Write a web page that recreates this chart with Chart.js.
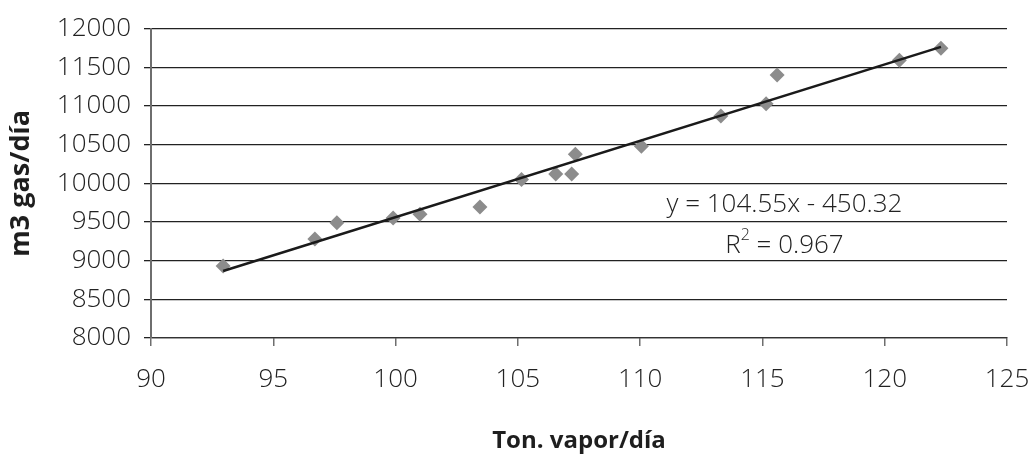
<!DOCTYPE html>
<html>
<head>
<meta charset="utf-8">
<script src="https://cdn.jsdelivr.net/npm/chart.js@4/dist/chart.umd.min.js"></script>
<style>
  html, body { margin: 0; padding: 0; background: #fff; }
  #wrap { width: 1036px; height: 458px; }
</style>
</head>
<body>
<div id="wrap"><canvas id="vaporChart"></canvas></div>
<script>
// Ton. vapor/día vs m3 gas/día
const vaporValues = [92.95, 96.7, 97.6, 99.9, 101.0, 103.45, 105.15, 106.55, 107.2, 107.35, 110.05, 113.3, 115.15, 115.6, 120.6, 122.3];
const gasValues   = [8930, 9280, 9490, 9550, 9600, 9695, 10050, 10120, 10120, 10375, 10480, 10870, 11030, 11400, 11590, 11745];
const equationText = 'y = 104.55x - 450.32';
const r2Text = ' = 0.967';
const xTitle = 'Ton. vapor/día';
const yTitle = 'm3 gas/día';

const fontFamily = "'Open Sans', 'Liberation Sans', sans-serif";

// least squares trend line from the points
function trendLine(xs, ys) {
    const n = xs.length;
    const mx = xs.reduce((a, b) => a + b, 0) / n;
    const my = ys.reduce((a, b) => a + b, 0) / n;
    let num = 0, den = 0;
    for (let i = 0; i < n; i++) {
        num += (xs[i] - mx) * (ys[i] - my);
        den += (xs[i] - mx) * (xs[i] - mx);
    }
    const slope = num / den;
    const b = my - slope * mx;
    const x0 = Math.min(...xs), x1 = Math.max(...xs);
    return [{ x: x0, y: slope * x0 + b }, { x: x1, y: slope * x1 + b }];
}

const points = vaporValues.map((v, i) => ({ x: v, y: gasValues[i] }));

// equation + R² drawn inside the plot
const equationPlugin = {
    id: 'equationText',
    afterDatasetsDraw(chart) {
        const { ctx, scales } = chart;
        const cx = scales.x.getPixelForValue(115.9);
        const y1 = scales.y.getPixelForValue(9725);
        const y2 = scales.y.getPixelForValue(9190);
        const big = '300 26px ' + fontFamily;
        const small = '300 16px ' + fontFamily;
        ctx.save();
        ctx.fillStyle = '#222';
        ctx.font = big;
        ctx.textAlign = 'center';
        ctx.textBaseline = 'middle';
        ctx.fillText(equationText, cx, y1);

        const wBase = ctx.measureText('R').width;
        const wRest = ctx.measureText(r2Text).width;
        ctx.font = small;
        const wSup = ctx.measureText('2').width;
        let x = cx - (wBase + wSup + wRest) / 2;
        ctx.textAlign = 'left';
        ctx.font = big;
        ctx.fillText('R', x, y2);
        x += wBase;
        ctx.font = small;
        ctx.fillText('2', x, y2 - 11);
        x += wSup;
        ctx.font = big;
        ctx.fillText(r2Text, x, y2);
        ctx.restore();
    }
};

new Chart(document.getElementById('vaporChart'), {
    type: 'scatter',
    data: {
        datasets: [
            {
                type: 'line',
                data: trendLine(vaporValues, gasValues),
                borderColor: '#1a1a1a',
                borderWidth: 2.5,
                pointRadius: 0,
                fill: false,
                order: 0
            },
            {
                data: points,
                pointStyle: 'rectRot',
                pointRadius: 7.5,
                pointBackgroundColor: '#8c8c8c',
                pointBorderColor: '#8c8c8c',
                pointBorderWidth: 0,
                order: 1
            }
        ]
    },
    options: {
        responsive: true,
        maintainAspectRatio: false,
        animation: false,
        layout: { padding: { top: 23, right: 29, left: 0, bottom: 0 } },
        plugins: {
            legend: { display: false },
            tooltip: { enabled: false }
        },
        scales: {
            x: {
                type: 'linear',
                min: 90,
                max: 125,
                ticks: {
                    stepSize: 5,
                    padding: 18,
                    color: '#222',
                    font: { family: fontFamily, size: 26, weight: 300 },
                    callback: v => String(v)
                },
                grid: {
                    drawOnChartArea: false,
                    drawTicks: true,
                    tickLength: 8,
                    color: '#6e6e6e',
                    lineWidth: 1.5
                },
                border: { display: true, color: '#333', width: 1.3 },
                title: {
                    display: true,
                    text: xTitle,
                    color: '#1e1e1e',
                    font: { family: fontFamily, size: 24, weight: 'bold' },
                    padding: { top: 0, bottom: 2 }
                },
                afterFit(scale) {
                    scale.height = 120;
                    // keep the 125 label from pushing the plot in
                    scale.paddingRight = 0;
                }
            },
            y: {
                min: 8000,
                max: 12000,
                ticks: {
                    stepSize: 500,
                    padding: 13,
                    color: '#222',
                    font: { family: fontFamily, size: 26, weight: 300 },
                    callback: v => String(v)
                },
                grid: {
                    color: '#222',
                    lineWidth: 1.3,
                    drawTicks: true,
                    tickLength: 7
                },
                border: { display: true, color: '#6e6e6e', width: 2 },
                title: {
                    display: true,
                    text: yTitle,
                    color: '#1e1e1e',
                    font: { family: fontFamily, size: 27, weight: 'bold' },
                    padding: { top: 5, bottom: 0 }
                },
                afterFit(scale) { scale.width = 151; }
            }
        }
    },
    plugins: [equationPlugin]
});
</script>
</body>
</html>
